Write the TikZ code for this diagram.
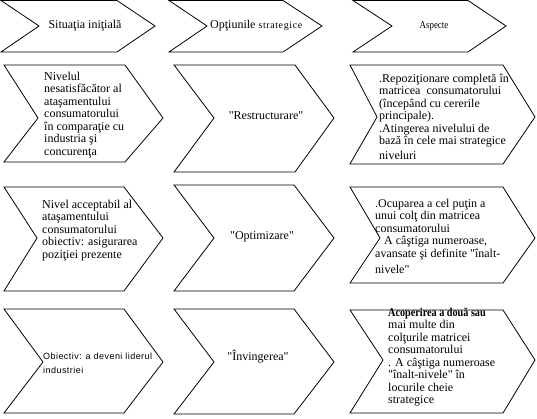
\documentclass[tikz,border=0pt]{standalone}
\usepackage{fontspec}
\setmainfont{Liberation Serif}[Ligatures=TeXOff]
\newfontfamily\spacedser[LetterSpace=6,Ligatures=TeXOff]{Liberation Serif}
\newfontfamily\condser[FakeStretch=0.85,Ligatures=TeXOff]{Liberation Serif}
\newfontfamily\smallsans[LetterSpace=5]{Liberation Sans}
\newcommand\mychev[7]{%
  \draw[chev] (#1,#5) -- (#3,#5) -- (#4,#7) -- (#3,#6) -- (#1,#6) -- (#2,#7) -- cycle;}
\tikzset{
  chev/.style={draw=black, line width=0.8pt, line join=miter},
  lbl/.style={font=\fontsize{12}{12.5}\selectfont, inner sep=0pt},
  blk/.style={font=\fontsize{12}{12.5}\selectfont, align=left, inner sep=0pt, anchor=north west},
}
\begin{document}
\begin{tikzpicture}[x=1pt,y=-1pt]
\useasboundingbox (0,0) rectangle (537,419);
% header row
\mychev{1}{39}{117}{155}{0.5}{52}{26}
\mychev{169}{207}{283}{322}{0.5}{52}{26}
\mychev{353}{392}{468}{506}{0.5}{52}{26}
% row 1
\mychev{4}{38}{125}{163}{65}{162}{118}
\mychev{174}{214}{295}{334}{65}{172}{118}
\mychev{350}{377}{503}{535}{65}{164}{117}
% row 2
\mychev{4}{37}{124}{163}{187}{291}{238}
\mychev{174}{214}{294}{334}{185}{291}{238}
\mychev{350}{380}{503}{535}{187}{283}{238}
% row 3
\mychev{4}{43}{124}{163}{309}{413}{362}
\mychev{174}{214}{294}{334}{309}{414}{362}
\mychev{350}{383}{503}{535}{310}{413}{360}

% header texts
\node[lbl, anchor=base] (h1) at (85,29) {Situaţia iniţială};
\node[lbl, anchor=base west] (h2) at (210,29) {Opţiunile {\spacedser\fontsize{10}{11}\selectfont strategice}};
\node[anchor=base, inner sep=0pt, font=\condser\fontsize{10.5}{11}\selectfont] (h3) at (434,29) {Aspecte};

% row 1
\node[blk] (a1) at (44,71.25) {\strut Nivelul\\nesatisfăcător al\\ataşamentului\\consumatorului\\în comparaţie cu\\industria şi\\concurenţa};
\node[lbl, anchor=base] (b1) at (266,120) {"Restructurare"};
\node[blk] (c1) at (379,73.25) {\strut .Repoziţionare completă în\\matricea~ consumatorului\\(începând cu cererile\\principale).\\.Atingerea nivelului de\\bază în cele mai strategice\\[2pt]niveluri};

% row 2
\node[blk] (a2) at (42,199.25) {\strut Nivel acceptabil al\\ataşamentului\\consumatorului\\obiectiv: asigurarea\\poziţiei prezente};
\node[lbl, anchor=base] (b2) at (262,240) {"Optimizare"};
\node[blk] (c2) at (375,198.25) {\strut .Ocuparea a cel puţin a\\unui colţ din matricea\\consumatorului\\\hspace*{9pt}A câştiga numeroase,\\avansate şi definite "înalt-\\[4pt]nivele"};

% row 3
\node[align=left, inner sep=0pt, anchor=north west, font=\smallsans\fontsize{9}{14}\selectfont] (a3) at (43,349.2) {\strut Obiectiv: a deveni liderul\\industriei};
\node[lbl, anchor=base] (b3) at (258,360) {"Învingerea"};
\node[blk] (c3) at (388,307.25) {\strut{\condser\bfseries Acoperirea a două sau}\\mai multe din\\colţurile matricei\\consumatorului\\. A câştiga numeroase\\"înalt-nivele" în\\locurile cheie\\strategice};
\end{tikzpicture}
\end{document}
